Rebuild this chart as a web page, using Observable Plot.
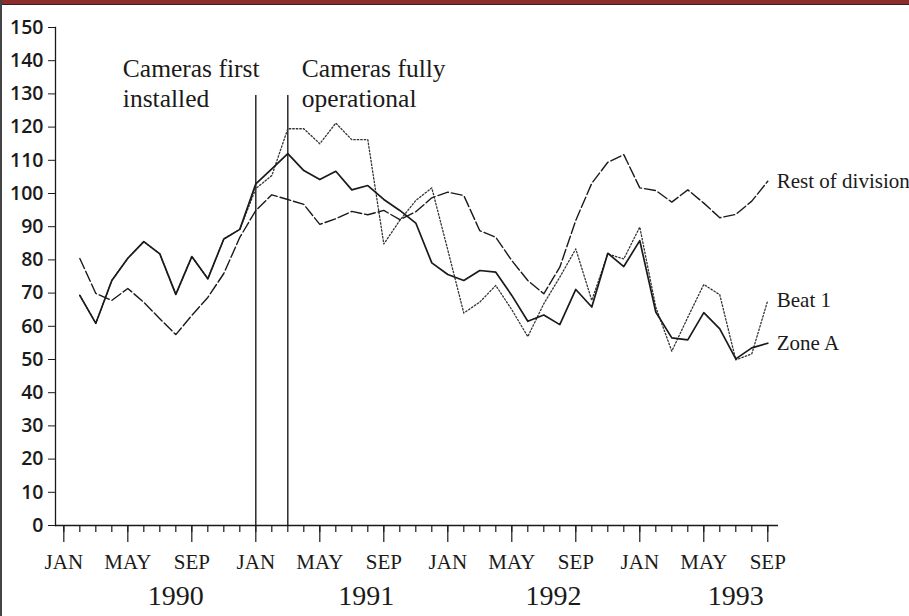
<!DOCTYPE html>
<html><head><meta charset="utf-8">
<script src="https://cdn.jsdelivr.net/npm/d3@7"></script>
<script src="https://cdn.jsdelivr.net/npm/@observablehq/plot@0.6"></script>
<style>
html,body{margin:0;padding:0;background:#fff;overflow:hidden}
#wrap{position:relative;width:909px;height:616px}
#wrap svg{position:absolute;left:0;top:0}
#topband{position:absolute;left:0;top:0;width:909px;height:4px;background:#8c2d2d;border-bottom:1px solid #3b1c1c}
#leftband{position:absolute;left:0;top:0;width:2px;height:616px;background:#444}
</style></head><body><div id="wrap"><div id="topband"></div><div id="leftband"></div></div>
<script>
// month index: 0 = JAN 1990 ... 44 = SEP 1993; data runs FEB 1990 (1) to SEP 1993 (44)
const monthIndex = [1,2,3,4,5,6,7,8,9,10,11,12,13,14,15,16,17,18,19,20,21,22,23,24,25,26,27,28,29,30,31,32,33,34,35,36,37,38,39,40,41,42,43,44];

const zoneA = [69.3,60.9,73.8,80.5,85.5,81.8,69.6,81.0,74.3,86.3,89.2,102.9,107.4,112.0,106.9,104.2,106.7,101.1,102.4,98.2,94.9,91.1,79.1,75.6,73.8,76.8,76.3,69.3,61.5,63.4,60.5,71.1,65.8,82.0,78.0,85.8,64.3,56.5,55.9,64.1,59.2,50.2,53.5,54.9];

const beat1 = [69.3,60.9,73.8,80.5,85.5,81.8,69.6,81.0,74.3,86.3,89.2,101.5,105.4,119.5,119.5,115.0,121.2,116.2,116.2,84.8,91.9,97.9,101.7,83.0,64.0,67.3,72.3,65.0,56.9,66.8,74.8,83.3,67.8,81.8,80.3,89.9,65.8,52.5,62.7,72.6,69.5,49.9,51.7,67.8];

const restOfDivision = [80.4,69.9,67.8,71.4,67.2,62.3,57.5,63.3,68.7,75.9,86.8,94.9,99.6,98.2,96.7,90.7,92.4,94.6,93.6,94.9,92.1,94.5,98.7,100.4,99.4,88.8,86.8,79.8,73.8,69.8,77.8,91.9,103.1,109.4,111.7,101.7,100.9,97.4,101.1,97.1,92.7,93.7,97.7,103.7];

const seriesNames = ["Rest of division", "Beat 1", "Zone A"];

const yTicks = [0,10,20,30,40,50,60,70,80,90,100,110,120,130,140,150];
const minorTicks = [0,1,2,3,4,5,6,7,8,9,10,11,12,13,14,15,16,17,18,19,20,21,22,23,24,25,26,27,28,29,30,31,32,33,34,35,36,37,38,39,40,41,42,43,44];
const majorTicks = [0,4,8,12,16,20,24,28,32,36,40,44];
const majorLabels = ["JAN","MAY","SEP","JAN","MAY","SEP","JAN","MAY","SEP","JAN","MAY","SEP"];
const yearTicks = [7,18.9,30.6,42];
const yearLabels = ["1990","1991","1992","1993"];

const eventMonths = [12, 14];
const eventLabels = ["Cameras first\ninstalled", "Cameras fully\noperational"];

const serif = "'Liberation Serif','Times New Roman',Times,serif";
const sans = "'Open Sans','DejaVu Sans',sans-serif";

const toRows = (vals) => vals.map((v, i) => ({m: monthIndex[i], v}));
const restRows = toRows(restOfDivision);
const beatRows = toRows(beat1);
const zoneRows = toRows(zoneA);
const events = eventMonths.map((m, i) => ({m, label: eventLabels[i]}));
const lastM = monthIndex[monthIndex.length-1];
const endLabels = [
  {m: lastM, v: restOfDivision[restOfDivision.length-1], label: seriesNames[0]},
  {m: lastM, v: beat1[beat1.length-1], label: seriesNames[1]},
  {m: lastM, v: zoneA[zoneA.length-1], label: seriesNames[2]}
];

const ink = "#1a1a1a";
const chart = Plot.plot({
  width: 909, height: 616,
  marginLeft: 55, marginRight: 131, marginTop: 27, marginBottom: 91,
  x: {domain: [-0.52, 44.67]},
  y: {domain: [0, 150]},
  style: {background: "transparent", color: ink, overflow: "visible"},
  marks: [
    Plot.frame({anchor: "left", stroke: ink, strokeWidth: 1.3}),
    Plot.ruleY([0], {stroke: ink, strokeWidth: 1.7}),
    Plot.axisY({ticks: yTicks, tickSize: 7, tickPadding: 5, fontSize: 19.5, fontWeight: 600, fontFamily: sans, label: null, stroke: ink}),
    Plot.axisX({ticks: minorTicks, tickSize: 7, tickFormat: () => "", label: null, stroke: ink, strokeWidth: 1.2}),
    Plot.axisX({ticks: majorTicks, tickSize: 17, tickPadding: 12, fontSize: 21, fontFamily: serif,
      tickFormat: d => majorLabels[majorTicks.indexOf(d)], label: null, stroke: ink, strokeWidth: 1.2}),
    Plot.axisX({ticks: yearTicks, tickSize: 0, tickPadding: 60, fontSize: 28, fontFamily: serif,
      tickFormat: d => yearLabels[yearTicks.indexOf(d)], label: null}),
    Plot.ruleX(events, {x: "m", y1: 0, y2: 129.5, stroke: ink, strokeWidth: 1.4}),
    Plot.text(events.slice(0,1), {x: "m", y: 141.5, text: "label", textAnchor: "start", lineAnchor: "top", dx: -133, fontSize: 25.5, fontFamily: serif, lineHeight: 1.18, fill: ink}),
    Plot.text(events.slice(1), {x: "m", y: 141.5, text: "label", textAnchor: "start", lineAnchor: "top", dx: 14, fontSize: 25.5, fontFamily: serif, lineHeight: 1.18, fill: ink}),
    Plot.line(restRows, {x: "m", y: "v", stroke: ink, strokeWidth: 1.4, strokeDasharray: "11,3"}),
    Plot.line(beatRows, {x: "m", y: "v", stroke: "#333", strokeWidth: 1.3, strokeDasharray: "1.5,2"}),
    Plot.line(zoneRows, {x: "m", y: "v", stroke: ink, strokeWidth: 1.7}),
    Plot.text(endLabels, {x: "m", y: "v", text: "label", textAnchor: "start", dx: 9, fontSize: 21, fontFamily: serif, fill: ink})
  ]
});
document.getElementById("wrap").prepend(chart);
</script>
</body></html>
